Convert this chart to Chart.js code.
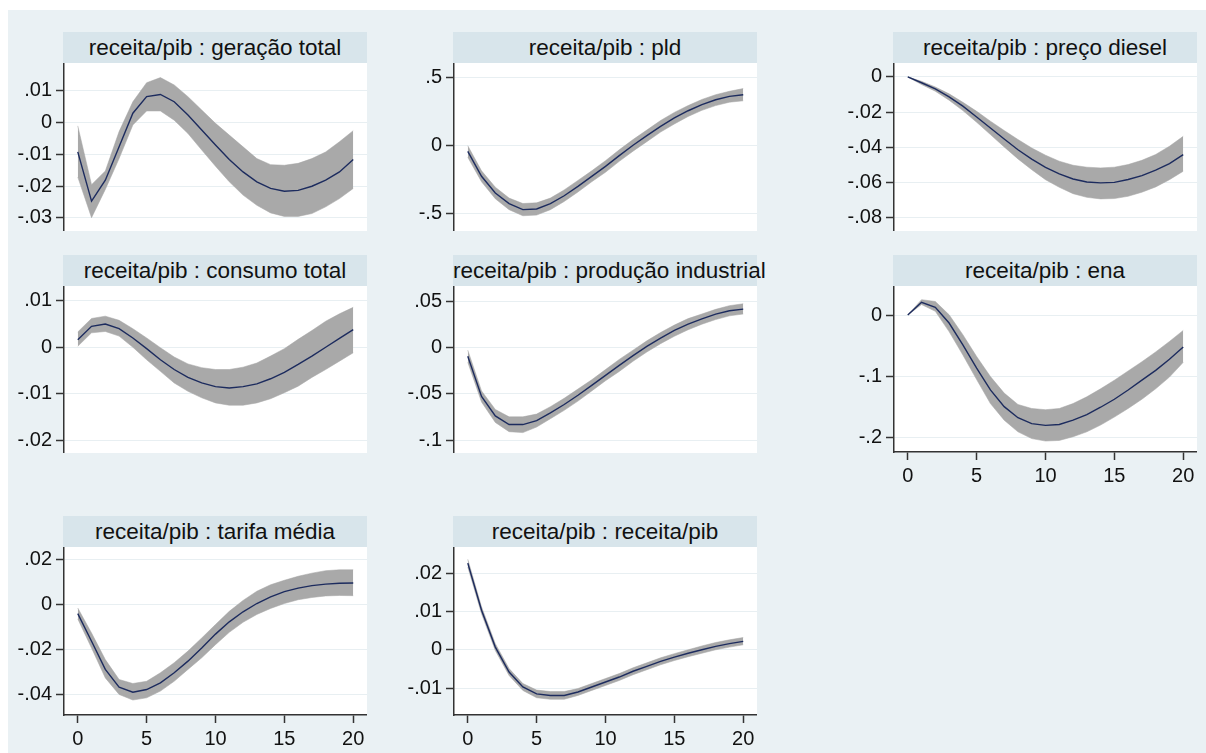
<!DOCTYPE html>
<html>
<head>
<meta charset="utf-8">
<script src="https://cdn.jsdelivr.net/npm/chart.js@4/dist/chart.umd.min.js"></script>
<style>
  html, body { margin: 0; padding: 0; background: #fff; }
  body { width: 1206px; height: 753px; overflow: hidden; position: relative; font-family: "Liberation Sans", Arial, sans-serif; }
  #bg { position: absolute; left: 8px; top: 10px; width: 1198px; height: 743px; background: #eaf1f4; }
  .ttl { position: absolute; height: 31px; line-height: 31px; background: #d8e5eb; color: #111;
         font-size: 22.5px; text-align: center; white-space: nowrap; overflow: visible; }
  .box { position: absolute; }
</style>
</head>
<body>
<div id="bg"></div>

<script>
// horizonte (passos) e eixos
var horizon = [0, 1, 2, 3, 4, 5, 6, 7, 8, 9, 10, 11, 12, 13, 14, 15, 16, 17, 18, 19, 20];
var xticks = [0, 5, 10, 15, 20];

var titles = ['receita/pib : geração total', 'receita/pib : pld', 'receita/pib : preço diesel',
              'receita/pib : consumo total', 'receita/pib : produção industrial', 'receita/pib : ena',
              'receita/pib : tarifa média', 'receita/pib : receita/pib'];

// geração total
var irf_geracao = [-0.0092, -0.0247, -0.0181, -0.0076, 0.0030, 0.0082, 0.0089, 0.0066, 0.0024, -0.0023, -0.0070,
                   -0.0116, -0.0155, -0.0186, -0.0207, -0.0216, -0.0213, -0.0200, -0.0181, -0.0155, -0.0116];
var hi_geracao = [-0.0010, -0.0195, -0.0152, -0.0028, 0.0066, 0.0126, 0.0142, 0.0119, 0.0082, 0.0040, -0.0002,
                  -0.0039, -0.0076, -0.0113, -0.0132, -0.0134, -0.0128, -0.0113, -0.0092, -0.0060, -0.0025];
var lo_geracao = [-0.0171, -0.0299, -0.0210, -0.0113, -0.0007, 0.0037, 0.0037, 0.0008, -0.0034, -0.0086, -0.0137,
                  -0.0186, -0.0228, -0.0260, -0.0284, -0.0295, -0.0295, -0.0286, -0.0265, -0.0239, -0.0207];
var yt_geracao = [0.01, 0, -0.01, -0.02, -0.03];
var yl_geracao = ['.01', '0', '-.01', '-.02', '-.03'];

// pld
var irf_pld = [-0.047, -0.230, -0.353, -0.431, -0.475, -0.470, -0.431, -0.373, -0.304, -0.230, -0.157,
               -0.078, -0.002, 0.069, 0.137, 0.199, 0.252, 0.297, 0.333, 0.358, 0.370];
var hi_pld = [-0.005, -0.190, -0.310, -0.390, -0.430, -0.425, -0.390, -0.330, -0.260, -0.190, -0.115,
              -0.035, 0.040, 0.110, 0.180, 0.240, 0.290, 0.335, 0.370, 0.395, 0.415];
var lo_pld = [-0.090, -0.270, -0.395, -0.475, -0.520, -0.515, -0.475, -0.415, -0.345, -0.270, -0.200,
              -0.120, -0.045, 0.025, 0.095, 0.155, 0.210, 0.255, 0.290, 0.315, 0.325];
var yt_pld = [0.5, 0, -0.5];
var yl_pld = ['.5', '0', '-.5'];

// preço diesel
var irf_diesel = [0, -0.0033, -0.0068, -0.0113, -0.0166, -0.0227, -0.0290, -0.0352, -0.0413, -0.0466, -0.0513,
                  -0.0550, -0.0579, -0.0596, -0.0601, -0.0598, -0.0582, -0.0560, -0.0529, -0.0492, -0.0441];
var hi_diesel = [0, -0.0025, -0.0057, -0.0096, -0.0144, -0.0195, -0.0251, -0.0304, -0.0355, -0.0403, -0.0444,
                 -0.0478, -0.0501, -0.0512, -0.0516, -0.0512, -0.0497, -0.0473, -0.0440, -0.0393, -0.0337];
var lo_diesel = [0, -0.0043, -0.0081, -0.0132, -0.0191, -0.0257, -0.0327, -0.0397, -0.0465, -0.0526, -0.0583,
                 -0.0626, -0.0662, -0.0683, -0.0692, -0.0690, -0.0677, -0.0654, -0.0624, -0.0583, -0.0535];
var yt_diesel = [0, -0.02, -0.04, -0.06, -0.08];
var yl_diesel = ['0', '-.02', '-.04', '-.06', '-.08'];

// consumo total
var irf_consumo = [0.0016, 0.0045, 0.0050, 0.0040, 0.0020, -0.0003, -0.0027, -0.0048, -0.0065, -0.0077, -0.0085,
                   -0.0088, -0.0085, -0.0079, -0.0068, -0.0054, -0.0037, -0.0019, 0.0000, 0.0019, 0.0038];
var hi_consumo = [0.0033, 0.0062, 0.0067, 0.0058, 0.0040, 0.0020, -0.0001, -0.0021, -0.0036, -0.0044, -0.0048,
                  -0.0048, -0.0043, -0.0034, -0.0019, -0.0003, 0.0017, 0.0036, 0.0056, 0.0072, 0.0086];
var lo_consumo = [0.0002, 0.0031, 0.0034, 0.0024, 0.0000, -0.0027, -0.0052, -0.0077, -0.0095, -0.0109, -0.0120,
                  -0.0125, -0.0125, -0.0120, -0.0111, -0.0098, -0.0084, -0.0065, -0.0048, -0.0030, -0.0012];
var yt_consumo = [0.01, 0, -0.01, -0.02];
var yl_consumo = ['.01', '0', '-.01', '-.02'];

// produção industrial
var irf_producao = [-0.0097, -0.0530, -0.0740, -0.0833, -0.0833, -0.0790, -0.0707, -0.0617, -0.0517, -0.0410, -0.0302,
                    -0.0194, -0.0090, 0.0010, 0.0100, 0.0183, 0.0251, 0.0308, 0.0359, 0.0395, 0.0413];
var hi_producao = [-0.003, -0.047, -0.067, -0.075, -0.075, -0.072, -0.064, -0.055, -0.045, -0.035, -0.024,
                   -0.013, -0.003, 0.007, 0.016, 0.024, 0.031, 0.036, 0.041, 0.045, 0.047];
var lo_producao = [-0.016, -0.059, -0.081, -0.091, -0.092, -0.086, -0.077, -0.068, -0.058, -0.047, -0.036,
                   -0.026, -0.015, -0.005, 0.004, 0.012, 0.019, 0.025, 0.030, 0.034, 0.036];
var yt_producao = [0.05, 0, -0.05, -0.1];
var yl_producao = ['.05', '0', '-.05', '-.1'];

// ena
var irf_ena = [0, 0.0207, 0.0125, -0.013, -0.0485, -0.0864, -0.1218, -0.149, -0.167, -0.1766, -0.1795,
               -0.178, -0.171, -0.162, -0.150, -0.137, -0.122, -0.106, -0.090, -0.072, -0.052];
var hi_ena = [0, 0.025, 0.022, 0.0005, -0.032, -0.0675, -0.100, -0.127, -0.1455, -0.152, -0.154,
              -0.152, -0.144, -0.133, -0.120, -0.106, -0.091, -0.076, -0.060, -0.043, -0.025];
var lo_ena = [0, 0.017, 0.006, -0.027, -0.065, -0.105, -0.144, -0.171, -0.190, -0.201, -0.205,
              -0.204, -0.198, -0.190, -0.179, -0.166, -0.152, -0.137, -0.120, -0.101, -0.077];
var yt_ena = [0, -0.1, -0.2];
var yl_ena = ['0', '-.1', '-.2'];

// tarifa média
var irf_tarifa = [-0.0040, -0.0164, -0.0290, -0.0369, -0.0392, -0.0380, -0.0350, -0.0305, -0.0253, -0.0194, -0.0132,
                  -0.0077, -0.0032, 0.0005, 0.0035, 0.0058, 0.0074, 0.0085, 0.0092, 0.0096, 0.0097];
var hi_tarifa = [-0.0015, -0.0127, -0.0246, -0.0335, -0.0353, -0.0343, -0.0305, -0.0260, -0.0208, -0.0149, -0.0089,
                 -0.0030, 0.0019, 0.0060, 0.0089, 0.0109, 0.0127, 0.0141, 0.0152, 0.0156, 0.0156];
var lo_tarifa = [-0.0064, -0.0194, -0.0328, -0.0402, -0.0427, -0.0417, -0.0387, -0.0343, -0.0290, -0.0238, -0.0179,
                 -0.0124, -0.0079, -0.0044, -0.0017, 0.0005, 0.0022, 0.0032, 0.0039, 0.0041, 0.0040];
var yt_tarifa = [0.02, 0, -0.02, -0.04];
var yl_tarifa = ['.02', '0', '-.02', '-.04'];

// receita/pib
var irf_receita = [0.0226, 0.0103, 0.0007, -0.0058, -0.0097, -0.0115, -0.0119, -0.0119, -0.0110, -0.0097, -0.0084,
                   -0.0071, -0.0056, -0.0043, -0.0030, -0.0019, -0.0009, 0.0000, 0.0009, 0.0016, 0.0022];
var hi_receita = [0.0236, 0.0112, 0.0016, -0.0049, -0.0088, -0.0105, -0.0109, -0.0109, -0.0101, -0.0088, -0.0075,
                  -0.0062, -0.0047, -0.0034, -0.0021, -0.0010, 0.0000, 0.0010, 0.0019, 0.0026, 0.0032];
var lo_receita = [0.0216, 0.0094, -0.0002, -0.0067, -0.0106, -0.0125, -0.0129, -0.0129, -0.0119, -0.0106, -0.0093,
                  -0.0080, -0.0065, -0.0052, -0.0039, -0.0028, -0.0018, -0.0009, 0.0000, 0.0007, 0.0013];
var yt_receita = [0.02, 0.01, 0, -0.01];
var yl_receita = ['.02', '.01', '0', '-.01'];

var FONT = '"Liberation Sans", Arial, sans-serif';

// fundo branco so na area do grafico
var whitePlot = {
  id: 'whitePlot',
  beforeDraw: function(chart) {
    var a = chart.chartArea, ctx = chart.ctx;
    ctx.save();
    ctx.fillStyle = '#ffffff';
    ctx.fillRect(a.left, a.top, a.right - a.left, a.bottom - a.top);
    ctx.restore();
  }
};

function pts(vals) {
  return horizon.map(function(h, i) { return { x: h, y: vals[i] }; });
}

function semPadding(s) {
  s.paddingTop = 0; s.paddingBottom = 0; s.paddingLeft = 0; s.paddingRight = 0;
}

function painel(n, left, top, w, h, showX, irf, hi, lo, yt, yl, ymin, ymax) {
  var t = document.createElement('div');
  t.className = 'ttl';
  t.style.left = (left - 1) + 'px';
  t.style.top = (top - 31) + 'px';
  t.style.width = (w + 1) + 'px';
  t.textContent = titles[n];
  document.body.appendChild(t);

  var box = document.createElement('div');
  box.className = 'box';
  box.style.left = (left - 64) + 'px';
  box.style.top = top + 'px';
  box.style.width = (w + 64) + 'px';
  box.style.height = (h + (showX ? 40 : 0)) + 'px';
  var cv = document.createElement('canvas');
  box.appendChild(cv);
  document.body.appendChild(box);

  new Chart(cv, {
    type: 'line',
    data: {
      datasets: [
        { data: pts(irf), borderColor: '#1c2b5e', borderWidth: 1.4, pointRadius: 0, fill: false, tension: 0 },
        { data: pts(hi), borderColor: '#a2a2a2', borderWidth: 0.5, pointRadius: 0, fill: '+1',
          backgroundColor: '#a9a9a9', tension: 0 },
        { data: pts(lo), borderColor: '#a2a2a2', borderWidth: 0.5, pointRadius: 0, fill: false, tension: 0 }
      ]
    },
    options: {
      responsive: true,
      maintainAspectRatio: false,
      animation: false,
      layout: { padding: 0 },
      plugins: { legend: { display: false }, tooltip: { enabled: false }, title: { display: false } },
      scales: {
        x: {
          type: 'linear', min: -1, max: 21, display: showX,
          afterBuildTicks: function(s) { s.ticks = xticks.map(function(v) { return { value: v }; }); },
          afterFit: function(s) { semPadding(s); if (showX) s.height = 40; },
          ticks: { font: { family: FONT, size: 20 }, color: '#111', padding: 4, maxRotation: 0, autoSkip: false },
          grid: { drawOnChartArea: false, drawTicks: true, tickLength: 8, tickColor: '#333', tickWidth: 1.5 },
          border: { display: true, color: '#333', width: 1.5 }
        },
        y: {
          type: 'linear', min: ymin, max: ymax,
          afterBuildTicks: function(s) { s.ticks = yt.map(function(v) { return { value: v }; }); },
          afterFit: function(s) { semPadding(s); s.width = 64; },
          ticks: { font: { family: FONT, size: 20 }, color: '#111', padding: 4,
                   callback: function(v, i) { return yl[i]; } },
          grid: { color: '#e8eff2', lineWidth: 1, drawTicks: true, tickLength: 8, tickColor: '#333', tickWidth: 1.5 },
          border: { display: true, color: '#333', width: 1.5 }
        }
      }
    },
    plugins: [whitePlot]
  });
}

painel(0, 64, 63, 303, 168, false, irf_geracao, hi_geracao, lo_geracao, yt_geracao, yl_geracao, -0.0341, 0.0188);
painel(1, 454, 63, 303, 168, false, irf_pld, hi_pld, lo_pld, yt_pld, yl_pld, -0.632, 0.603);
painel(2, 894, 63, 303, 168, false, irf_diesel, hi_diesel, lo_diesel, yt_diesel, yl_diesel, -0.0874, 0.0079);
painel(3, 64, 286, 303, 167, false, irf_consumo, hi_consumo, lo_consumo, yt_consumo, yl_consumo, -0.0228, 0.0132);
painel(4, 454, 286, 303, 167, false, irf_producao, hi_producao, lo_producao, yt_producao, yl_producao, -0.114, 0.0662);
painel(5, 894, 286, 303, 166, true, irf_ena, hi_ena, lo_ena, yt_ena, yl_ena, -0.2228, 0.0472);
painel(6, 64, 547, 303, 168, true, irf_tarifa, hi_tarifa, lo_tarifa, yt_tarifa, yl_tarifa, -0.0494, 0.0258);
painel(7, 454, 547, 303, 168, true, irf_receita, hi_receita, lo_receita, yt_receita, yl_receita, -0.0170, 0.0268);
</script>
</body>
</html>
